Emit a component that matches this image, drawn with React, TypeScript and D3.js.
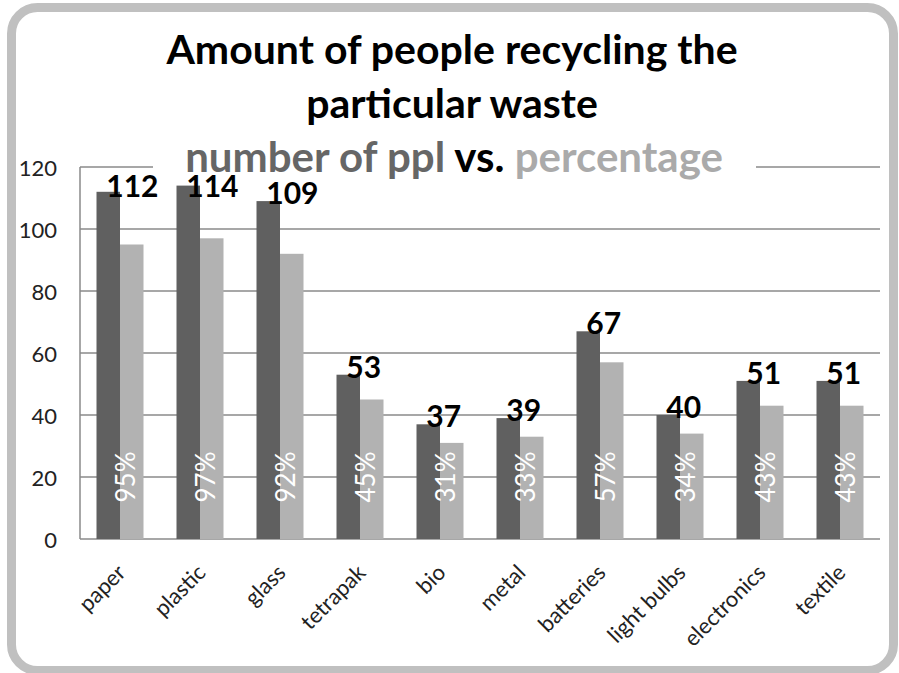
import React from "react";
import * as d3 from "d3";

const categories = ["paper", "plastic", "glass", "tetrapak", "bio", "metal", "batteries", "light bulbs", "electronics", "textile"];
const peopleCounts = [112, 114, 109, 53, 37, 39, 67, 40, 51, 51];
const percentages = [95, 97, 92, 45, 31, 33, 57, 34, 43, 43];
const yTicks = [0, 20, 40, 60, 80, 100, 120];
const titleLines = ["Amount of people recycling the", "particular waste"];

const W = 899;
const H = 673;
const FONT = "Lato, 'Open Sans', sans-serif";

export default function App() {
  const plotL = 80, plotR = 880, plotT = 167, plotB = 539;
  const x0 = d3.scaleBand<string>().domain(categories).range([plotL, plotR]).paddingInner(33 / 80).paddingOuter(33 / 160);
  const x1 = d3.scaleBand<string>().domain(["count", "pct"]).range([0, x0.bandwidth()]);
  const y = d3.scaleLinear().domain([0, 120]).range([plotB, plotT]);
  const cx = (c: string) => (x0(c) as number) + x0.bandwidth() / 2;
  // data labels are kept inside the plot area (label top may not go above the plot top + padding)
  const labelBaseline = (v: number) => Math.max(y(v) + 3, plotT + 30);

  return (
    <svg width={W} height={H} style={{ position: "fixed", left: 0, top: 0, background: "#fff" }} fontFamily={FONT}>
      <rect x={0} y={0} width={W} height={H} fill="#fff" />
      {/* gridlines */}
      {yTicks.filter((t) => t > 0).map((t) => (
        <line key={t} x1={plotL} x2={plotR} y1={y(t)} y2={y(t)} stroke="#8a8a8a" strokeWidth={1.5} />
      ))}
      {/* axes */}
      <line x1={plotL} x2={plotL} y1={plotT} y2={plotB} stroke="#8a8a8a" strokeWidth={1.5} />
      <line x1={plotL} x2={plotR} y1={plotB} y2={plotB} stroke="#8a8a8a" strokeWidth={1.5} />
      {/* y tick labels */}
      {yTicks.map((t) => (
        <text key={t} x={57} y={y(t)} textAnchor="end" dominantBaseline="central" fontSize={22} fill="#222">
          {t}
        </text>
      ))}
      {/* bars */}
      {categories.map((c, i) => (
        <g key={c}>
          <rect x={(x0(c) as number) + (x1("count") as number)} y={y(peopleCounts[i])} width={x1.bandwidth()} height={plotB - y(peopleCounts[i])} fill="#606060" />
          <rect x={(x0(c) as number) + (x1("pct") as number)} y={y(percentages[i])} width={x1.bandwidth()} height={plotB - y(percentages[i])} fill="#b2b2b2" />
        </g>
      ))}
      {/* percentage labels */}
      {categories.map((c, i) => (
        <text key={c} transform={`translate(${cx(c) + 5},477) rotate(-90)`} textAnchor="middle" dominantBaseline="central" fontSize={26} fill="#fff">
          {percentages[i] + "%"}
        </text>
      ))}
      {/* x labels */}
      {categories.map((c) => (
        <text key={c} transform={`translate(${cx(c) + 7},574) rotate(-45)`} textAnchor="end" fontSize={22} fill="#222">
          {c}
        </text>
      ))}
      {/* title */}
      {titleLines.map((l, i) => (
        <text key={i} x={452} y={64 + i * 54} textAnchor="middle" fontSize={41} fontWeight="bold" fill="#000">
          {l}
        </text>
      ))}
      <rect x={153} y={158} width={603} height={16} fill="#fff" />
      <text x={454} y={172} textAnchor="middle" fontSize={42} fontWeight="bold">
        <tspan fill="#666">number of ppl </tspan>
        <tspan fill="#000">vs. </tspan>
        <tspan fill="#aaa">percentage</tspan>
      </text>
      {/* count labels */}
      {categories.map((c, i) => (
        <text key={c} x={(x0(c) as number) + (x1("count") as number) + x1.bandwidth() / 2 - 2} y={labelBaseline(peopleCounts[i])} fontSize={30} fontWeight="bold" fill="#000">
          {peopleCounts[i]}
        </text>
      ))}
      {/* border */}
      <rect x={11.5} y={7.5} width={882} height={663} rx={26} ry={26} fill="none" stroke="#c0c0c0" strokeWidth={9} />
    </svg>
  );
}
